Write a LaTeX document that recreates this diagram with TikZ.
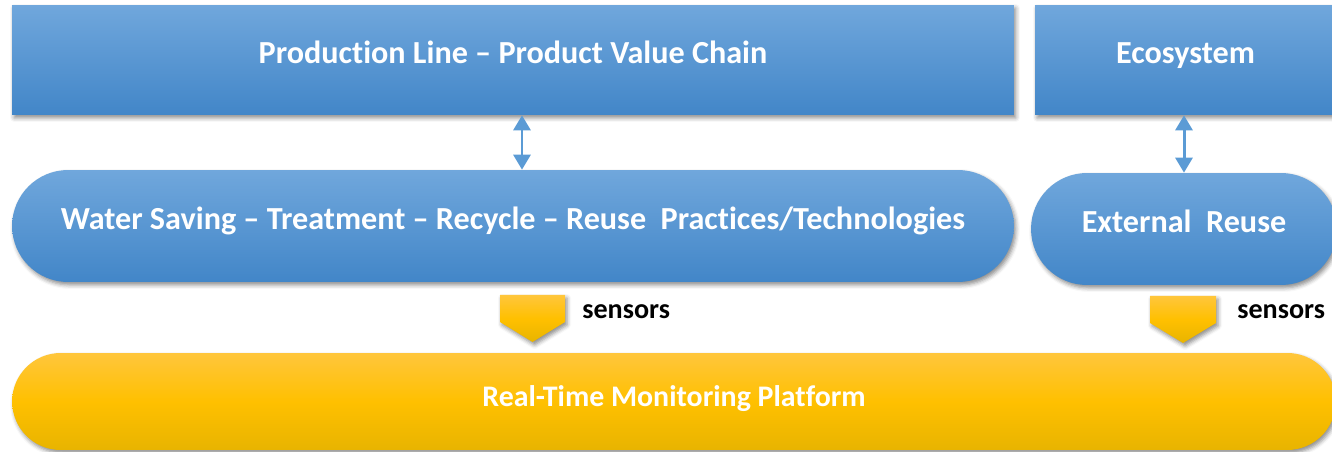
\documentclass[tikz,border=0pt]{standalone}
\usepackage{fontspec}
\setmainfont[Ligatures={TeX,NoCommon}]{Carlito}
\usetikzlibrary{shapes.misc, arrows.meta, shadows.blur, positioning}

\definecolor{bluetop}{RGB}{112,167,220}
\definecolor{bluebot}{RGB}{66,134,200}
\definecolor{linkblue}{RGB}{91,155,213}
\definecolor{goldtop}{RGB}{255,198,60}
\definecolor{goldmid}{RGB}{255,192,0}
\definecolor{goldbot}{RGB}{232,180,0}

\begin{document}
\begin{tikzpicture}[
    x=0.02cm, y=-0.02cm,
    soft/.style={blur shadow={shadow xshift=0.04cm, shadow yshift=-0.06cm, shadow blur radius=0.08cm, shadow opacity=45}},
    layer/.style={rectangle, minimum height=2.2cm, inner sep=0pt, text=white, text height=0.7em, text depth=0.26em,
        font=\bfseries\fontsize{18.3}{22}\selectfont, top color=bluetop, bottom color=bluebot, soft},
    practice/.style={layer, rounded rectangle, minimum height=2.24cm},
    platform/.style={rounded rectangle, minimum height=1.94cm, inner sep=0pt, text=white, text height=0.7em, text depth=0.12em,
        font=\bfseries\fontsize{17}{20}\selectfont, top color=goldtop, bottom color=goldbot, middle color=goldmid, soft},
    chevron/.style={top color=goldtop, bottom color=goldbot, middle color=goldmid, soft},
    tag/.style={anchor=west, inner sep=0pt, font=\bfseries\fontsize{16}{19}\selectfont},
    link/.style={draw=linkblue, line width=1.7pt, {Triangle[width=0.34cm,length=0.3cm]}-{Triangle[width=0.34cm,length=0.3cm]}},
]
    \useasboundingbox (0,0) rectangle (1332,452);

    % Top layer
    \node (chain) [layer, minimum width=20.04cm] at (513,60) {Production Line -- Product Value Chain};
    \node (eco) [layer, minimum width=6.02cm] at (1185.5,60) {Ecosystem};

    % Practices
    \node (saving) [practice, minimum width=20.04cm] at (513,226) {Water Saving -- Treatment -- Recycle -- Reuse\ \ Practices/Technologies};
    \node (reuse) [practice, minimum width=6.12cm] at (1184,229) {External\ \ Reuse};

    % Monitoring
    \node (monitor) [platform, minimum width=26.48cm] at (674,401.5) {Real-Time Monitoring Platform};

    % Links between layers
    \draw [link] ([xshift=0.18cm]chain.south) -- ([xshift=0.18cm]saving.north);
    \draw [link] (eco.south -| reuse.north) -- (reuse.north);

    % Sensor chevrons
    \path [chevron] (500,295) -- (565,295) -- (565,322) -- (532.5,342) -- (500,322) -- cycle;
    \path [chevron] (1150,296) -- (1216,296) -- (1216,323) -- (1183,343) -- (1150,323) -- cycle;
    \node (sensA) [tag] at (582,312) {sensors};
    \node (sensB) [tag] at (1237,312) {sensors};
\end{tikzpicture}
\end{document}
